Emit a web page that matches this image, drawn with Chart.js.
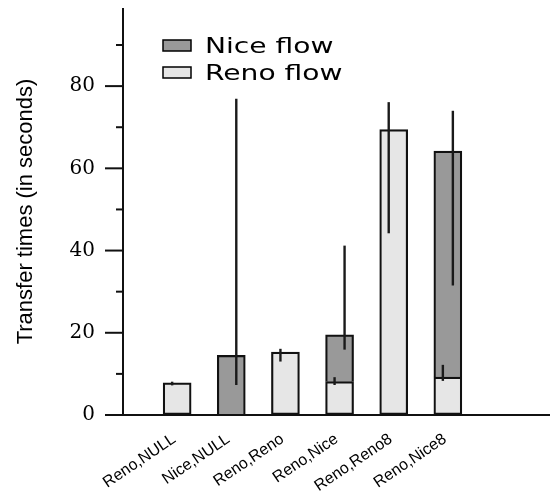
<!DOCTYPE html>
<html><head><meta charset="utf-8">
<script src="https://cdn.jsdelivr.net/npm/chart.js@4"></script>
<style>html,body{margin:0;padding:0;background:#fff;} #wrap{width:550px;height:491px;position:relative;}</style>
</head><body><div id="wrap"><canvas id="c" width="550" height="491" style="width:550px;height:491px"></canvas></div>
<script>
// ---- data ----
const categories = ['Reno,NULL','Nice,NULL','Reno,Reno','Reno,Nice','Reno,Reno8','Reno,Nice8'];
const renoValues = [7.8, null, 15.3, 8.1, 69.4, 9.2];
const niceValues = [null, 14.5, null, 11.4, null, 55.0];
// error bar ranges (in axis units)
const renoErrLow  = [7.2, null, 13.0, 7.3, 44.2, 8.3];
const renoErrHigh = [8.1, null, 16.1, 9.2, 76.1, 12.2];
const niceErrLow  = [null, 7.3, null, 15.9, null, 31.5];
const niceErrHigh = [null, 76.9, null, 41.2, null, 74.0];
const yMajorTicks = [0, 20, 40, 60, 80];
const yMinorTicks = [10, 30, 50, 70, 90];
const yMax = 99;
const seriesLabels = ['Reno flow', 'Nice flow'];

// ---- styles ----
const RENO_FILL = '#e6e6e6';
const NICE_FILL = '#999999';
const AXIS_COLOR = '#111';

const xLabels = [''].concat(categories, ['']);
const toPoints = vals => vals.map((v, i) => ({x: categories[i], y: v}));

const errorBars = {
  id: 'errorBars',
  afterDatasetsDraw(chart) {
    const ctx = chart.ctx, y = chart.scales.y;
    const sets = [
      {ds: 0, lo: renoErrLow, hi: renoErrHigh, dx: -5},
      {ds: 1, lo: niceErrLow, hi: niceErrHigh, dx: 5}
    ];
    ctx.save();
    ctx.strokeStyle = '#1a1a1a';
    ctx.lineWidth = 2.4;
    sets.forEach(s => {
      const meta = chart.getDatasetMeta(s.ds);
      s.lo.forEach((lo, i) => {
        const hi = s.hi[i];
        if (lo == null || hi == null) return;
        const el = meta.data[i];
        const x = el.x + s.dx;
        ctx.beginPath();
        ctx.moveTo(x, y.getPixelForValue(lo));
        ctx.lineTo(x, y.getPixelForValue(hi));
        ctx.stroke();
      });
    });
    ctx.restore();
  }
};

const axesAndLegend = {
  id: 'axesAndLegend',
  afterDraw(chart) {
    const ctx = chart.ctx, ys = chart.scales.y, ca = chart.chartArea;
    const y0 = ys.getPixelForValue(0);
    ctx.save();
    ctx.strokeStyle = AXIS_COLOR;
    ctx.lineWidth = 2;
    ctx.beginPath();
    ctx.moveTo(ca.left, ca.top);
    ctx.lineTo(ca.left, y0);
    ctx.stroke();
    ctx.beginPath();
    ctx.moveTo(ca.left - 18, y0);
    ctx.lineTo(chart.width, y0);
    ctx.stroke();
    yMajorTicks.forEach(v => {
      const p = ys.getPixelForValue(v);
      ctx.beginPath(); ctx.moveTo(ca.left - 18, p); ctx.lineTo(ca.left, p); ctx.stroke();
    });
    yMinorTicks.forEach(v => {
      const p = ys.getPixelForValue(v);
      ctx.beginPath(); ctx.moveTo(ca.left - 7, p); ctx.lineTo(ca.left, p); ctx.stroke();
    });
    const items = chart.data.datasets.slice().reverse();
    const bx = ca.left + 40, by = ca.top + 32;
    items.forEach((ds, k) => {
      const top = by + k * 27;
      ctx.fillStyle = ds.backgroundColor;
      ctx.fillRect(bx, top, 28, 11);
      ctx.lineWidth = 1.5;
      ctx.strokeStyle = '#000';
      ctx.strokeRect(bx, top, 28, 11);
      ctx.save();
      ctx.fillStyle = '#000';
      ctx.font = '21px "DejaVu Sans"';
      ctx.textBaseline = 'alphabetic';
      ctx.translate(bx + 42, top + 12.5);
      ctx.scale(1.34, 1);
      ctx.fillText(ds.label, 0, 0);
      ctx.restore();
    });
    ctx.restore();
  }
};

const hiddenTicks = {display: true, color: 'rgba(0,0,0,0)', drawOnChartArea: false, drawTicks: true};

new Chart(document.getElementById('c'), {
  type: 'bar',
  data: {
    labels: xLabels,
    datasets: [
      {label: seriesLabels[0], data: toPoints(renoValues), backgroundColor: RENO_FILL,
       borderColor: '#111', borderWidth: 2.2, borderSkipped: false, barThickness: 28},
      {label: seriesLabels[1], data: toPoints(niceValues), backgroundColor: NICE_FILL,
       borderColor: '#111', borderWidth: 2.2, borderSkipped: 'bottom', barThickness: 28}
    ]
  },
  options: {
    responsive: false,
    animation: false,
    devicePixelRatio: 1,
    layout: {padding: {top: 8, right: 48, left: 0, bottom: 0}},
    plugins: {legend: {display: false}, tooltip: {enabled: false}},
    scales: {
      x: {
        stacked: true,
        offset: false,
        grid: Object.assign({}, hiddenTicks, {tickLength: 4}),
        border: {display: false},
        ticks: {
          autoSkip: false, minRotation: 34, maxRotation: 34, padding: 12, labelOffset: -3,
          color: '#000', font: {family: '"Liberation Sans", Arial', size: 16, lineHeight: 1}
        },
        afterFit(s) { s.height = 76; }
      },
      y: {
        stacked: true,
        min: 0, max: yMax,
        grid: Object.assign({}, hiddenTicks, {tickLength: 28}),
        border: {display: false},
        afterBuildTicks(s) { s.ticks = yMajorTicks.map(v => ({value: v})); },
        ticks: {padding: 0, color: '#000', font: {family: '"DejaVu Serif"', size: 20, lineHeight: 0.8}},
        title: {display: true, text: 'Transfer times (in seconds)', color: '#000',
                padding: {top: 13, bottom: 0}, font: {family: '"Liberation Sans", Arial', size: 22}},
        afterFit(s) { s.width = 123; }
      }
    }
  },
  plugins: [errorBars, axesAndLegend]
});
</script></body></html>
